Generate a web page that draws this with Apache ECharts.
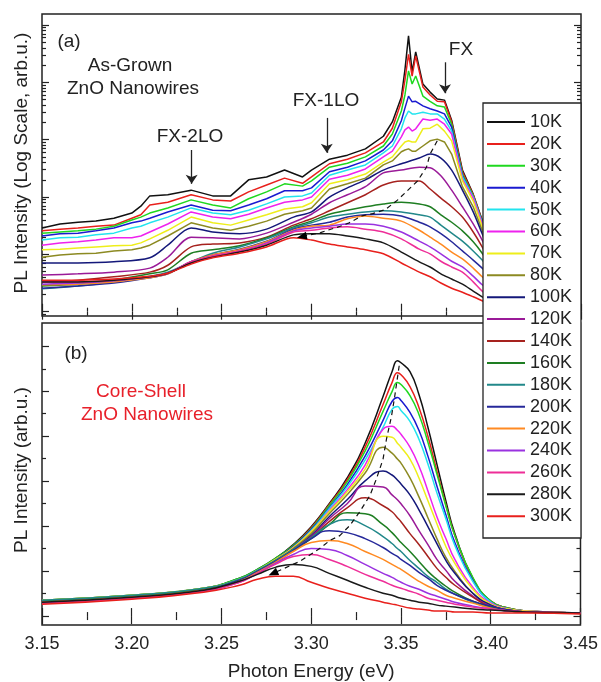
<!DOCTYPE html>
<html>
<head>
<meta charset="utf-8">
<title>PL spectra of ZnO nanowires</title>
<script src="https://cdn.jsdelivr.net/npm/echarts@6/dist/echarts.min.js"></script>
<style>
  html, body { margin: 0; padding: 0; background: #fff; }
  #main { width: 601px; height: 682px; }
</style>
</head>
<body>
<div id="main"></div>
<script>
// temperatures shown in the legend
var temps = ['10K', '20K', '30K', '40K', '50K', '60K', '70K', '80K', '100K', '120K',
             '140K', '160K', '180K', '200K', '220K', '240K', '260K', '280K', '300K'];

// (a) as-grown wires, log10 of PL intensity
var energyTopLow = [3.15, 3.16, 3.17, 3.18, 3.19, 3.20, 3.205, 3.21, 3.22, 3.233, 3.245, 3.255, 3.265, 3.275, 3.285, 3.295,
                    3.30, 3.31, 3.32, 3.33, 3.34, 3.345, 3.35, 3.352, 3.354, 3.356, 3.358, 3.362, 3.366, 3.37, 3.374, 3.378,
                    3.384, 3.39, 3.395, 3.40, 3.42];
var energyTopHigh = [3.15, 3.17, 3.19, 3.21, 3.22, 3.233, 3.245, 3.26, 3.275, 3.29, 3.30, 3.31, 3.32, 3.33, 3.34, 3.35,
                     3.36, 3.366, 3.372, 3.378, 3.384, 3.39, 3.395, 3.40, 3.42];

var top10K = [1.46,1.53,1.56,1.58,1.63,1.72,1.84,2.02,2.04,2.12,2.02,2.02,2.30,2.35,2.47,2.35,2.47,2.66,2.73,2.84,3.06,3.31,3.74,4.22,4.81,4.18,4.53,3.97,3.83,3.71,3.69,3.34,2.47,2.05,1.60,1.16,0.47];
var top20K = [1.41,1.44,1.46,1.49,1.51,1.63,1.69,1.86,1.91,2.04,1.95,1.93,2.09,2.21,2.33,2.24,2.35,2.58,2.66,2.77,2.96,3.20,3.66,4.04,4.49,4.11,4.46,3.92,3.78,3.67,3.66,3.31,2.44,2.04,1.58,1.15,0.45];
var top30K = [1.37,1.39,1.41,1.44,1.49,1.60,1.65,1.72,1.81,1.95,1.86,1.81,1.97,2.09,2.23,2.19,2.28,2.52,2.59,2.70,2.89,3.10,3.50,3.78,4.20,3.97,4.11,3.76,3.67,3.59,3.57,3.27,2.40,2.02,1.56,1.13,0.43];
var top40K = [1.32,1.36,1.37,1.41,1.46,1.55,1.58,1.63,1.74,1.86,1.77,1.76,1.86,1.97,2.11,2.11,2.16,2.44,2.52,2.63,2.82,2.98,3.33,3.55,3.76,3.66,3.67,3.59,3.54,3.50,3.45,3.22,2.37,2.00,1.55,1.11,0.41];
var top50K = [1.25,1.29,1.30,1.34,1.37,1.46,1.49,1.55,1.65,1.81,1.72,1.69,1.77,1.88,2.00,2.02,2.07,2.38,2.47,2.56,2.77,2.89,3.19,3.38,3.50,3.45,3.45,3.48,3.45,3.45,3.36,3.15,2.35,2.00,1.55,1.11,0.41];
var top60K = [1.16,1.20,1.22,1.25,1.29,1.29,1.32,1.39,1.53,1.74,1.65,1.62,1.70,1.81,1.91,1.95,2.00,2.31,2.38,2.49,2.70,2.80,3.05,3.17,3.22,3.15,3.19,3.36,3.34,3.36,3.27,3.10,2.31,1.98,1.53,1.09,0.40];
var top70K = [1.08,1.09,1.11,1.13,1.15,1.16,1.20,1.27,1.42,1.65,1.55,1.51,1.60,1.69,1.79,1.83,1.90,2.23,2.30,2.40,2.61,2.70,2.89,2.96,2.98,2.96,2.96,3.19,3.20,3.27,3.15,2.98,2.28,1.93,1.49,1.08,0.38];
var top80K = [0.95,0.99,1.01,1.02,1.06,1.08,1.11,1.16,1.32,1.55,1.46,1.42,1.49,1.58,1.70,1.76,1.81,2.14,2.23,2.33,2.56,2.63,2.79,2.82,2.84,2.80,2.80,2.89,2.98,3.01,2.96,2.75,2.18,1.83,1.42,1.04,0.36];
var top100K = [0.85,0.85,0.87,0.94,1.16,1.46,1.39,1.36,1.44,1.65,1.74,2.00,2.16,2.30,2.47,2.58,2.68,2.75,2.68,2.47,2.12,1.74,1.36,0.99,0.34];
var top120K = [0.64,0.66,0.69,0.76,0.95,1.30,1.29,1.27,1.37,1.56,1.70,1.90,2.04,2.18,2.42,2.47,2.52,2.51,2.37,2.12,1.83,1.53,1.25,0.94,0.31];
var top140K = [0.52,0.55,0.61,0.69,0.81,1.13,1.18,1.20,1.30,1.51,1.62,1.76,1.90,2.04,2.21,2.28,2.28,2.14,1.98,1.83,1.65,1.39,1.13,0.83,0.27];
var top160K = [0.45,0.48,0.55,0.66,0.73,1.02,1.08,1.15,1.29,1.48,1.58,1.70,1.77,1.83,1.88,1.91,1.88,1.83,1.69,1.56,1.41,1.22,1.02,0.78,0.26];
var top180K = [0.40,0.45,0.52,0.62,0.69,0.87,1.02,1.13,1.27,1.46,1.55,1.65,1.70,1.74,1.76,1.74,1.69,1.65,1.51,1.37,1.23,1.06,0.90,0.71,0.24];
var top200K = [0.41,0.45,0.50,0.59,0.66,0.87,0.99,1.09,1.23,1.44,1.51,1.56,1.65,1.69,1.70,1.67,1.56,1.48,1.36,1.22,1.06,0.90,0.76,0.61,0.22];
var top220K = [0.47,0.48,0.52,0.59,0.66,0.87,0.99,1.08,1.22,1.42,1.49,1.51,1.62,1.67,1.63,1.58,1.42,1.30,1.18,1.04,0.92,0.76,0.61,0.48,0.20];
var top240K = [0.48,0.50,0.54,0.61,0.67,0.87,0.97,1.06,1.20,1.41,1.46,1.49,1.53,1.53,1.49,1.39,1.23,1.13,1.01,0.88,0.78,0.62,0.47,0.36,0.17];
var top260K = [0.52,0.52,0.55,0.61,0.67,0.87,0.97,1.06,1.18,1.39,1.42,1.46,1.48,1.44,1.39,1.27,1.09,1.01,0.88,0.78,0.69,0.52,0.36,0.27,0.15];
var top280K = [0.52,0.52,0.55,0.61,0.67,0.85,0.95,1.04,1.16,1.34,1.36,1.36,1.32,1.27,1.20,1.04,0.87,0.78,0.66,0.57,0.48,0.36,0.26,0.19,0.12];
var top300K = [0.55,0.55,0.57,0.62,0.67,0.83,0.94,1.02,1.13,1.29,1.25,1.18,1.13,1.08,1.01,0.85,0.69,0.61,0.50,0.41,0.34,0.26,0.19,0.12,0.06];

// peak trace in (a): energy, log10 intensity
var peakTopE = [3.370, 3.366, 3.364, 3.359, 3.348, 3.341, 3.334, 3.328, 3.321, 3.316, 3.305, 3.2946];
var peakTopL = [2.98, 2.75, 2.52, 2.28, 1.95, 1.78, 1.71, 1.67, 1.55, 1.49, 1.38, 1.31];

// (b) core-shell wires, linear PL intensity (arb.u.)
var energyBottom = [3.15, 3.20, 3.24, 3.26, 3.27, 3.28, 3.29, 3.30, 3.31, 3.32, 3.33, 3.34, 3.345, 3.348, 3.35, 3.355,
                    3.36, 3.365, 3.37, 3.375, 3.38, 3.39, 3.40, 3.41, 3.42, 3.45];
var bot10K = [16,21,28,38,47,58,72,90,113,139,174,221,246,257,255,246,223,190,153,116,83,38,15,8,5,3];
var bot20K = [15,20,27,37,46,57,71,89,112,137,170,213,235,245,243,231,210,181,146,112,81,38,15,8,5,3];
var bot30K = [16,21,28,38,47,58,71,88,111,135,166,206,226,235,233,222,203,175,143,111,81,39,15,8,5,3];
var bot40K = [16,20,27,37,46,57,70,87,109,132,161,197,216,220,217,205,187,161,131,102,74,36,14,7,5,3];
var bot50K = [15,20,27,37,46,56,69,86,108,130,157,190,208,211,207,196,178,153,124,98,71,35,14,7,5,3];
var bot60K = [15,20,27,36,45,56,69,85,106,127,152,188,191,187,183,170,151,126,100,78,57,29,13,7,5,3];
var bot70K = [16,21,28,37,46,57,69,85,105,125,148,181,180,174,170,158,139,116,93,70,53,27,12,7,5,3];
var bot80K = [15,20,27,36,45,56,68,83,103,122,144,170,164,158,154,139,120,99,78,59,45,23,11,6,4,3];
var bot100K = [15,20,27,36,45,55,67,81,100,117,136,146,142,137,133,122,107,90,73,56,43,23,11,6,4,3];
var bot120K = [14,19,26,36,45,55,67,80,98,113,131,130,122,117,113,101,86,72,57,46,35,20,10,6,4,3];
var bot140K = [14,19,26,35,44,54,66,79,95,109,119,111,105,99,95,83,72,60,48,39,31,19,9,5,4,3];
var bot160K = [15,20,27,36,45,55,66,78,92,104,103,92,84,78,74,65,55,45,37,30,24,15,9,5,4,3];
var bot180K = [16,21,28,37,46,56,67,79,92,97,91,80,73,68,65,56,48,40,34,27,22,14,8,5,4,3];
var bot200K = [14,19,26,36,45,55,66,78,86,84,78,69,63,60,57,51,44,38,31,26,22,15,10,6,4,3];
var bot220K = [14,19,26,35,44,54,65,74,76,73,65,57,52,49,47,41,35,30,26,21,18,13,8,5,4,3];
var bot240K = [13,18,25,34,43,53,62,68,67,61,52,43,39,36,34,30,27,23,20,17,14,10,7,5,4,3];
var bot260K = [13,18,25,34,43,52,60,62,57,50,42,35,31,29,28,25,22,18,16,14,12,9,7,5,4,3];
var bot280K = [14,19,26,35,42,49,52,50,43,36,29,23,21,19,18,16,14,13,11,10,9,7,6,5,4,3];
var bot300K = [12,17,24,31,37,40,40,34,28,23,18,14,12,11,10,8,7,6,5,5,4,4,3,3,3,2];

// peak trace in (b)
var peakBotE = [3.349, 3.3465, 3.3447, 3.3419, 3.340, 3.3363, 3.3326, 3.327, 3.3214, 3.3159, 3.3103, 3.3047, 3.2936, 3.2787];
var peakBotI = [252, 221, 201, 178, 158, 138, 121, 105, 91, 81, 76, 68, 55, 43];

// x tick labels
var xTicks = ['3.15', '3.20', '3.25', '3.30', '3.35', '3.40', '3.45'];

var topSets = [top10K, top20K, top30K, top40K, top50K, top60K, top70K, top80K, top100K, top120K,
               top140K, top160K, top180K, top200K, top220K, top240K, top260K, top280K, top300K];
var botSets = [bot10K, bot20K, bot30K, bot40K, bot50K, bot60K, bot70K, bot80K, bot100K, bot120K,
               bot140K, bot160K, bot180K, bot200K, bot220K, bot240K, bot260K, bot280K, bot300K];

var colors = ['#111111', '#e8201c', '#1fd81f', '#1a1ad0', '#22e4ee', '#ee22ee', '#eeee1a', '#8c8a22', '#14187a', '#9a1a98',
              '#a6221e', '#1e7e22', '#22888a', '#26289a', '#ff8a22', '#9a32e0', '#ee2e98', '#1a1a1a', '#e8201c'];

var FONT = '"Liberation Sans", Arial, sans-serif';
var INK = '#222';

var myChart = echarts.init(document.getElementById('main'), null, { renderer: 'canvas' });

// log ticks for panel (a)
var logMin = -0.075, logMax = 5.192;
var logMajor = [0, 1, 2, 3, 4, 5];
var logMinor = [];
for (var n = -1; n <= 5; n++) {
  for (var k = 2; k <= 9; k++) {
    var t = n + Math.log10(k);
    if (t > logMin && t < logMax) logMinor.push(t);
  }
}
// linear ticks for panel (b)
var linMajor = [0.3, 45.5, 90.7, 135.9, 181.1, 226.3, 271.5];
var linMinor = [22.9, 68.1, 113.3, 158.5, 203.7, 248.9];

function xAx(grid, pos, showLabel) {
  return {
    type: 'value', gridIndex: grid, position: pos, min: 3.15, max: 3.45, interval: 0.05,
    axisLine: { show: false },
    axisTick: { show: true, inside: true, length: 8, lineStyle: { color: INK, width: 1.2 } },
    minorTick: { show: true, splitNumber: 2, length: 4, lineStyle: { color: INK, width: 1.2 } },
    splitLine: { show: false }, minorSplitLine: { show: false },
    axisLabel: {
      show: showLabel, margin: 10, fontSize: 18, color: INK, fontFamily: FONT,
      formatter: function (v) { var s = v.toFixed(2); return xTicks.indexOf(s) >= 0 ? s : ''; }
    },
    name: showLabel ? 'Photon Energy (eV)' : '',
    nameLocation: 'middle', nameGap: 37,
    nameTextStyle: { fontSize: 19, color: INK, fontFamily: FONT }
  };
}
function yAx(grid, pos, min, max, ticks, len) {
  return {
    type: 'value', gridIndex: grid, position: pos, min: min, max: max,
    axisLine: { show: false }, axisLabel: { show: false },
    splitLine: { show: false },
    axisTick: { show: true, inside: true, length: len, customValues: ticks, lineStyle: { color: INK, width: 1.2 } }
  };
}

var series = [];
temps.forEach(function (name, i) {
  var eTop = i < 8 ? energyTopLow : energyTopHigh;
  series.push({
    name: name, type: 'line', xAxisIndex: 0, yAxisIndex: 0,
    data: eTop.map(function (e, j) { return [e, topSets[i][j]]; }),
    symbol: 'none', smooth: i < 8 ? false : 0.3,
    lineStyle: { color: colors[i], width: 1.5 }, itemStyle: { color: colors[i] },
    z: 2
  });
  series.push({
    name: name, type: 'line', xAxisIndex: 2, yAxisIndex: 4,
    data: energyBottom.map(function (e, j) { return [e, botSets[i][j]]; }),
    symbol: 'none', smooth: 0.5,
    lineStyle: { color: colors[i], width: 1.5 }, itemStyle: { color: colors[i] },
    z: 2
  });
});

function traceData(es, vs, rot) {
  return es.map(function (e, j) {
    if (j === es.length - 1) {
      return { value: [e, vs[j]], symbol: 'triangle', symbolSize: [8, 10], symbolRotate: rot };
    }
    return [e, vs[j]];
  });
}
series.push({
  name: 'peakTop', type: 'line', xAxisIndex: 0, yAxisIndex: 0,
  data: traceData(peakTopE, peakTopL, 102), symbol: 'none',
  lineStyle: { color: '#111', width: 1.2, type: [5, 4] }, itemStyle: { color: '#000' }, z: 3,
  markLine: {
    silent: true, symbol: ['none', 'arrow'], symbolSize: 9,
    lineStyle: { color: INK, width: 1.3, type: 'solid' }, label: { show: false },
    data: [
      [{ coord: [3.2333, 2.82] }, { coord: [3.2333, 2.23] }],
      [{ coord: [3.3085, 3.38] }, { coord: [3.3085, 2.77] }],
      [{ coord: [3.3743, 4.35] }, { coord: [3.3743, 3.81] }]
    ]
  }
});
series.push({
  name: 'peakBot', type: 'line', xAxisIndex: 2, yAxisIndex: 4,
  data: traceData(peakBotE, peakBotI, 114), symbol: 'none',
  lineStyle: { color: '#111', width: 1.2, type: [5, 4] }, itemStyle: { color: '#000' }, z: 3
});

function txt(x, y, s, color, size) {
  return { type: 'text', x: x, y: y, z: 6,
    style: { text: s, fill: color || INK, font: (size || 19) + 'px ' + FONT, align: 'center', verticalAlign: 'middle' } };
}

var option = {
  animation: false,
  backgroundColor: '#fff',
  grid: [
    { left: 42, top: 14, width: 539, height: 302, show: true, borderColor: INK, borderWidth: 1.5 },
    { left: 42, top: 323, width: 539, height: 304, show: true, borderColor: INK, borderWidth: 1.5 }
  ],
  xAxis: [xAx(0, 'bottom', false), xAx(0, 'top', false), xAx(1, 'bottom', true), xAx(1, 'top', false)],
  yAxis: [
    yAx(0, 'left', logMin, logMax, logMajor, 7), yAx(0, 'left', logMin, logMax, logMinor, 4),
    yAx(0, 'right', logMin, logMax, logMajor, 7), yAx(0, 'right', logMin, logMax, logMinor, 4),
    yAx(1, 'left', -9, 295, linMajor, 7), yAx(1, 'left', -9, 295, linMinor, 4),
    yAx(1, 'right', -9, 295, linMajor, 7), yAx(1, 'right', -9, 295, linMinor, 4)
  ],
  legend: {
    orient: 'vertical', left: 487, top: 113, padding: 0,
    icon: 'rect', itemWidth: 38, itemHeight: 2, itemGap: 3.9, selectedMode: false, z: 10,
    textStyle: { fontSize: 18, color: INK, fontFamily: FONT },
    data: temps
  },
  graphic: [
    { type: 'rect', x: 483, y: 103, z: 5, shape: { width: 98, height: 435 },
      style: { fill: '#fff', stroke: INK, lineWidth: 1.3 } },
    { type: 'text', x: 22, y: 163, rotation: Math.PI / 2, z: 6,
      style: { text: 'PL Intensity (Log Scale, arb.u.)', fill: INK, font: '19px ' + FONT, align: 'center', verticalAlign: 'middle' } },
    { type: 'text', x: 22, y: 470, rotation: Math.PI / 2, z: 6,
      style: { text: 'PL Intensity (arb.u.)', fill: INK, font: '19px ' + FONT, align: 'center', verticalAlign: 'middle' } },
    txt(69, 42, '(a)'),
    txt(130, 66, 'As-Grown'),
    txt(133, 89, 'ZnO Nanowires'),
    txt(190, 137, 'FX-2LO'),
    txt(326, 101, 'FX-1LO'),
    txt(461, 50, 'FX'),
    txt(76, 354, '(b)'),
    txt(141, 392, 'Core-Shell', '#e8202a'),
    txt(147, 415, 'ZnO Nanowires', '#e8202a')
  ],
  series: series
};

myChart.setOption(option);
</script>
</body>
</html>
